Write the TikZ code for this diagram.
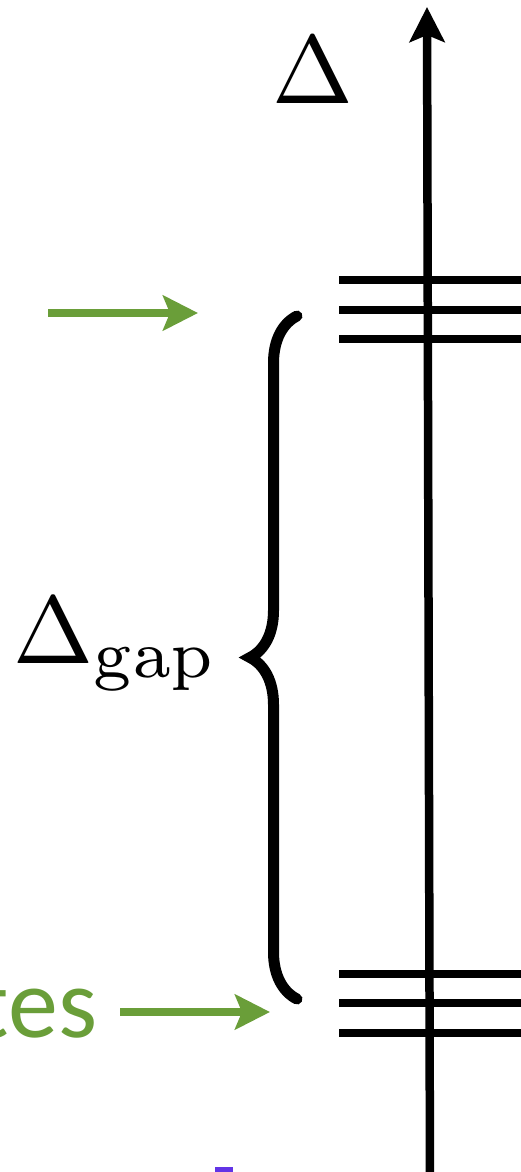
\documentclass[tikz,border=0pt]{standalone}
\usepackage[no-math]{fontspec}
\newfontfamily\labelfont{Carlito}
\usetikzlibrary{arrows.meta,positioning,decorations.pathreplacing}
\definecolor{levelgreen}{RGB}{106,158,57}
\definecolor{markpurple}{RGB}{98,52,230}

\begin{document}
\begin{tikzpicture}[x=0.1pt,y=-0.1pt,
  tip/.style={-{Stealth[length=3.5pt,width=3.5pt,inset=0.7pt]}},
  level/.style={line width=0.75pt},
  pointer/.style={tip,color=levelgreen,line width=0.8pt}]
  \useasboundingbox (0,0) rectangle (520,1172);

  % energy axis
  \coordinate (axbot) at (430,1190);
  \coordinate (axtop) at (427,7);
  \draw[tip,line width=0.85pt] (axbot) -- (axtop);
  \node[anchor=base west,inner sep=0,scale=0.97] (energy) at (271,103) {$\Delta$};

  % excited and ground manifolds
  \foreach \y in {280,310,339} \draw[level] (339,\y) -- (530,\y);
  \foreach \y in {974,1003,1033} \draw[level] (339,\y) -- (530,\y);

  % gap brace
  \coordinate (brbot) at (297,999);
  \coordinate (brtop) at (297,316);
  \draw[line width=1.1pt,line cap=round,
    decorate,decoration={brace,amplitude=4.7pt}] (brbot) -- (brtop);
  \node[anchor=base west,inner sep=0,scale=0.96] (gap) at (12,663) {$\Delta_{\mathrm{gap}}$};

  % pointers
  \coordinate (exsrc) at (48,313);
  \coordinate (exdst) at (198,313);
  \draw[pointer] (exsrc) -- (exdst);
  \node[anchor=base east,inner sep=0,text=levelgreen,font=\labelfont] (ground) at (99,1037) {tes};
  \coordinate (gssrc) at (120,1012);
  \coordinate (gsdst) at (270,1012);
  \draw[pointer] (gssrc) -- (gsdst);

  \fill[markpurple] (215,1167) rectangle (233,1180);
\end{tikzpicture}
\end{document}
